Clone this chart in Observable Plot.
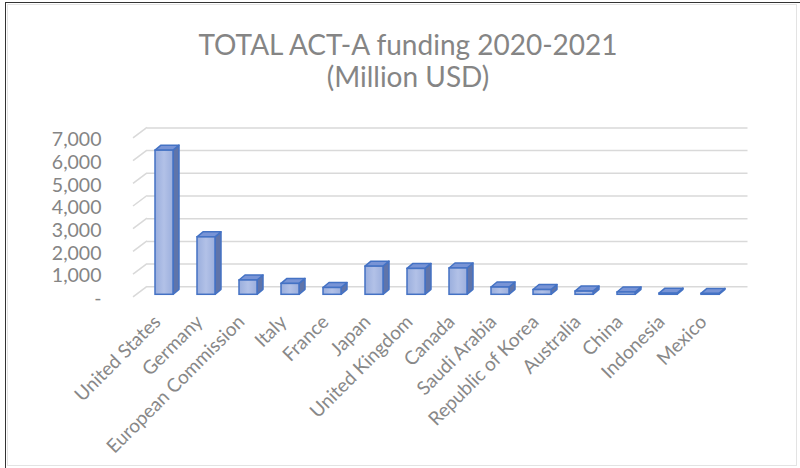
<!DOCTYPE html>
<html><head><meta charset="utf-8">
<script src="https://cdn.jsdelivr.net/npm/d3@7"></script>
<script src="https://cdn.jsdelivr.net/npm/@observablehq/plot@0.6"></script>
<style>
body{margin:0;background:#fff;}
#frame{position:relative;width:800px;height:468px;overflow:hidden;font-family:Lato,"Open Sans",sans-serif;background:#fff;}
#outer{position:absolute;left:5px;top:2px;right:0;bottom:0;border-left:1px solid #333;border-top:1px solid #333;}
#inner{position:absolute;left:7px;top:4px;width:790px;height:462px;border:1px solid #e3e3e3;box-sizing:border-box;}
#title{position:absolute;left:0;top:28px;width:816px;text-align:center;color:#858585;font-size:28px;line-height:32px;}
#chart{position:absolute;left:0;top:100px;}
</style>
</head><body>
<div id="frame">
  <div id="outer"></div>
  <div id="inner"></div>
  <div id="title">TOTAL ACT-A funding 2020-2021<br>(Million USD)</div>
  <div id="chart"></div>
</div>
<script>
const countries = ["United States","Germany","European Commission","Italy","France","Japan","United Kingdom","Canada","Saudi Arabia","Republic of Korea","Australia","China","Indonesia","Mexico"];
const values = [6350, 2530, 630, 480, 300, 1240, 1140, 1160, 320, 210, 140, 100, 50, 40];
const yTicks = [0, 1000, 2000, 3000, 4000, 5000, 6000, 7000];

const data = countries.map((c, i) => ({country: c, value: values[i]}));

// left side wall lines of the 3D chart, drawn from the plot's y scale
function wall(index, scales) {
  const y = scales.y, x = scales.x;
  const x0 = x.range()[0];
  const g = d3.create("svg:g");
  yTicks.forEach(v => {
    g.append("line")
      .attr("x1", x0 - 4).attr("y1", y(v) + 2.5)
      .attr("x2", x0 + 10).attr("y2", y(v) - 8)
      .attr("stroke", "#d9d9d9").attr("stroke-width", 1.5);
  });
  return g.node();
}

// side and top faces of each 3D column, from the plot's scales
function faces(index, scales) {
  const x = scales.x, y = scales.y;
  const bw = x.bandwidth();
  const dx = 6, dy = 5;
  const g = d3.create("svg:g").attr("stroke", "#4472c4").attr("stroke-width", 1.5).attr("stroke-linejoin", "round");
  data.forEach(d => {
    const x0 = x(d.country), x1 = x0 + bw, yt = y(d.value), yb = y(0);
    g.append("path")
      .attr("d", `M${x1},${yt}L${x1 + dx},${yt - dy}L${x1 + dx},${yb - dy}L${x1},${yb}Z`)
      .attr("fill", "#5f74aa");
    g.append("path")
      .attr("d", `M${x0},${yt}L${x0 + dx},${yt - dy}L${x1 + dx},${yt - dy}L${x1},${yt}Z`)
      .attr("fill", "#7894d6");
  });
  return g.node();
}

const plot = Plot.plot({
  width: 800,
  height: 368,
  marginLeft: 137,
  marginRight: 62.5,
  marginTop: 35.4,
  marginBottom: 173.7,
  x: {domain: countries, paddingInner: 0.58, paddingOuter: 0.29, label: null},
  y: {domain: [0, 7000], label: null},
  style: {fontFamily: "Lato, 'Open Sans', sans-serif", fontSize: "17px", color: "#808080", background: "transparent"},
  marks: [
    wall,
    Plot.ruleY(yTicks, {stroke: "#d9d9d9", strokeWidth: 1.5, dx: 10, dy: -8}),
    Plot.axisY({ticks: yTicks, tickFormat: d => d === 0 ? "-" : d3.format(",")(d), tickSize: 0, tickPadding: 36, dy: 4, fill: "#858585", fontSize: 19.5}),
    Plot.axisX({tickRotate: -45, tickSize: 0, tickPadding: 24, dx: -7, fill: "#888888", fontSize: 19}),
    faces,
    Plot.barY(data, {x: "country", y: "value", fill: "url(#frontGrad)", stroke: "#4472c4", strokeWidth: 1.5})
  ]
});

const svg = d3.select(plot);
const defs = svg.insert("defs", ":first-child");
const grad = defs.append("linearGradient").attr("id", "frontGrad").attr("x1", "0").attr("x2", "1").attr("y1", "0").attr("y2", "0");
grad.append("stop").attr("offset", "0%").attr("stop-color", "#9aaedd");
grad.append("stop").attr("offset", "50%").attr("stop-color", "#b2c1e7");
grad.append("stop").attr("offset", "100%").attr("stop-color", "#9cafdd");

document.getElementById("chart").appendChild(plot);
</script>
</body></html>
